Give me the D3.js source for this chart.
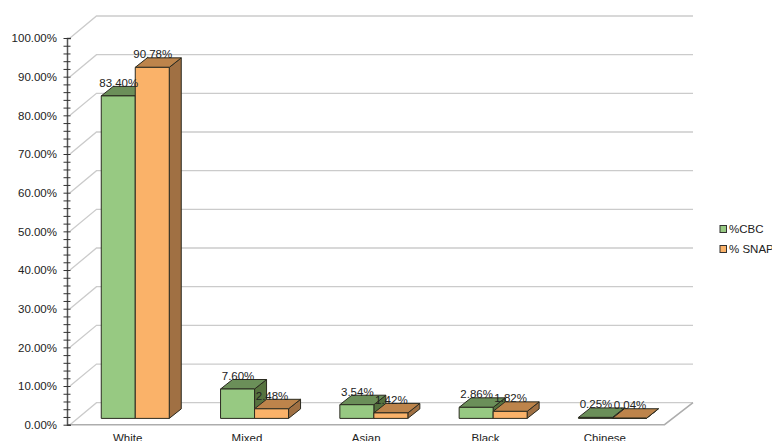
<!DOCTYPE html>
<html lang="en">
<head>
<meta charset="UTF-8">
<title>%CBC vs % SNAP</title>
<script src="https://d3js.org/d3.v7.min.js"></script>
<style>
    html, body { margin: 0; padding: 0; background: #fff; overflow: hidden; }
    svg { display: block; }
    text { font-family: "Liberation Sans", Arial, sans-serif; fill: #222; }
</style>
</head>
<body>
<script>
const categories = ['White', 'Mixed', 'Asian', 'Black', 'Chinese'];
const seriesNames = ['%CBC', '% SNAP'];
const cbcValues = [83.40, 7.60, 3.54, 2.86, 0.25];
const snapValues = [90.78, 2.48, 1.42, 1.82, 0.04];
const yTicks = [0, 10, 20, 30, 40, 50, 60, 70, 80, 90, 100];
const yMinorTicks = d3.range(0, 101, 2);

const width = 772, height = 441;
const plotLeft = 68, plotRight = 664.5, plotTop = 38, plotBottom = 424.7;
const wallDx = 28.5, wallDy = -22;     // depth of the whole 3d box
const barDx = 7.6, barDy = -6.3;       // bars sit a little way into the box
const barDepthX = 12, barDepthY = -9.5;

const colors = [
    { front: '#97c982', top: '#6b8f59', side: '#56733f' },
    { front: '#fab269', top: '#bd844b', side: '#a07043' }
];

const svg = d3.select('body').append('svg')
    .attr('width', width)
    .attr('height', height);

const x = d3.scaleBand().domain(categories).range([plotLeft, plotRight]);
const y = d3.scaleLinear().domain([0, 100]).range([plotBottom, plotTop]);
const barW = 34;

// back wall gridlines with their diagonal on the side wall
const grid = svg.append('g').attr('fill', 'none').attr('stroke', '#cbcbcb').attr('stroke-width', 1.3);
yTicks.forEach(t => {
    grid.append('path').attr('d', d3.line()([
        [plotLeft + 2, y(t)],
        [plotLeft + wallDx, y(t) + wallDy],
        [plotRight + wallDx, y(t) + wallDy]
    ]));
});

// floor
svg.append('path')
    .attr('d', d3.line()([
        [plotLeft, plotBottom],
        [plotRight, plotBottom],
        [plotRight + wallDx, plotBottom + wallDy]
    ]))
    .attr('fill', 'none')
    .attr('stroke', '#adadad')
    .attr('stroke-width', 1.5);

// bars
const bars = svg.append('g').attr('stroke', '#2b2b20').attr('stroke-width', 1).attr('stroke-linejoin', 'round');
function drawBar(cat, value, s) {
    const c = colors[s];
    const x0 = x(cat) + x.bandwidth() / 2 + barDx + (s - 1) * barW;
    const x1 = x0 + barW;
    const yb = y(0) + barDy;
    const yt = y(value) + barDy;
    const poly = pts => bars.append('path').attr('d', d3.line()(pts) + 'Z');
    poly([[x1, yb], [x1 + barDepthX, yb + barDepthY], [x1 + barDepthX, yt + barDepthY], [x1, yt]]).attr('fill', c.side);
    poly([[x0, yt], [x1, yt], [x1 + barDepthX, yt + barDepthY], [x0 + barDepthX, yt + barDepthY]]).attr('fill', c.top);
    poly([[x0, yb], [x1, yb], [x1, yt], [x0, yt]]).attr('fill', c.front);
}
categories.forEach((cat, i) => {
    drawBar(cat, cbcValues[i], 0);
    drawBar(cat, snapValues[i], 1);
});

// data labels
const labels = svg.append('g').attr('font-size', 11.5).attr('text-anchor', 'middle');
[cbcValues, snapValues].forEach((vals, s) => {
    categories.forEach((cat, i) => {
        labels.append('text')
            .attr('x', x(cat) + x.bandwidth() / 2 + barDx + (s - 1) * barW + barW / 2 + 0.5)
            .attr('y', y(vals[i]) + barDy + barDepthY + 0.5)
            .text(vals[i].toFixed(2) + '%');
    });
});

// y axis
const minorAxis = d3.axisLeft(y).tickValues(yMinorTicks).tickSize(-4).tickFormat('');
const gMinor = svg.append('g').attr('transform', 'translate(67,0)').call(minorAxis);
gMinor.selectAll('line').attr('x1', -3.5).attr('x2', 3.5).attr('stroke', '#333');
gMinor.select('.domain').attr('stroke', '#555').attr('stroke-width', 1.5);

const yAxis = d3.axisLeft(y).tickValues(yTicks).tickSize(0).tickPadding(10).tickFormat(d => d.toFixed(2) + '%');
const gy = svg.append('g').attr('transform', 'translate(67,0)').call(yAxis);
gy.select('.domain').remove();
gy.selectAll('text').attr('font-size', 11.5).attr('font-family', '"Liberation Sans", Arial, sans-serif').attr('fill', '#222');

// category labels
const xAxis = d3.axisBottom(x).tickSize(0).tickPadding(9);
const gx = svg.append('g').attr('transform', `translate(0,${plotBottom})`).call(xAxis);
gx.select('.domain').remove();
gx.selectAll('text').attr('font-size', 11.5).attr('font-family', '"Liberation Sans", Arial, sans-serif').attr('fill', '#222');

// legend
const legend = svg.append('g');
seriesNames.forEach((name, i) => {
    const ly = 229 + i * 20;
    legend.append('rect')
        .attr('x', 720).attr('y', ly - 3.5).attr('width', 6.5).attr('height', 7)
        .attr('fill', colors[i].front).attr('stroke', '#333').attr('stroke-width', 1);
    legend.append('text')
        .attr('x', 729).attr('y', ly + 4)
        .attr('font-size', 11.5)
        .text(name);
});
</script>
</body>
</html>
